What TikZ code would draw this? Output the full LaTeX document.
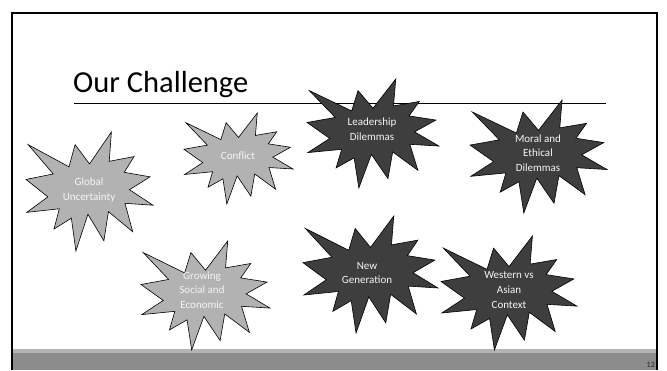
\documentclass[tikz,border=0pt]{standalone}
\usepackage{fontspec}
\setmainfont{Carlito}
\definecolor{starlight}{RGB}{178,178,178}
\definecolor{stardark}{RGB}{62,62,62}
\definecolor{bandlight}{RGB}{180,180,180}
\definecolor{banddark}{RGB}{140,140,140}
\definecolor{labeltext}{RGB}{245,245,245}
\tikzset{
  explosion/.pic={
    \path[pic actions] (0.5,0.2685) -- (0.6723,0) -- (0.6553,0.2465) -- (0.8509,0.2063)
      -- (0.7732,0.3387) -- (0.9767,0.3767) -- (0.8151,0.4850) -- (1,0.6153)
      -- (0.7795,0.5992) -- (0.8400,0.8377) -- (0.6491,0.6693) -- (0.6133,0.9137)
      -- (0.4876,0.6914) -- (0.3928,1) -- (0.3572,0.7235) -- (0.2205,0.8156)
      -- (0.2624,0.6452) -- (0.00625,0.6753) -- (0.1723,0.5451) -- (0,0.3988)
      -- (0.2142,0.3526) -- (0.0171,0.1063) -- (0.3385,0.2926) -- (0.3867,0.1063) -- cycle;
  },
  lightstar/.style={fill=starlight, draw=black, line width=0.6pt, line join=miter},
  darkstar/.style={fill=stardark, draw=black, line width=0.6pt, line join=miter},
  startext/.style={text=labeltext, align=center, inner sep=0pt,
    font=\fontsize{11}{14.7}\selectfont},
}
\begin{document}
\begin{tikzpicture}[x=1pt,y=-1pt]
\useasboundingbox (0,0) rectangle (667,370);
\fill[white] (0,0) rectangle (667,370);
% bottom band
\fill[bandlight] (12,349) rectangle (657,353);
\fill[banddark] (12,353) rectangle (657,370);
% frame
\draw[line width=2pt] (12,370) -- (12,13) -- (657,13) -- (657,370);
% title and rule
\node[anchor=base west, inner sep=0pt, font=\fontsize{30.5}{35}\selectfont] (title) at (73,92) {Our Challenge};
\coordinate (ruleL) at (74,103);
\coordinate (ruleR) at (606,103);
\draw[line width=0.8pt] (ruleL) -- (ruleR);
% stars
\pic[lightstar, xscale=127, yscale=119] at (26,132) {explosion};
\pic[lightstar, xscale=109, yscale=91] at (184,113) {explosion};
\pic[lightstar, xscale=129, yscale=109] at (141,241) {explosion};
\pic[darkstar, xscale=132, yscale=109] at (307,79) {explosion};
\pic[darkstar, xscale=137, yscale=113] at (470,100) {explosion};
\pic[darkstar, xscale=135, yscale=117] at (303,216) {explosion};
\pic[darkstar, xscale=136, yscale=114] at (441,236) {explosion};
% labels
\node[startext] (global) at (89,190) {Global\\Uncertainty};
\node[startext] (conflict) at (238,156) {Conflict};
\node[startext] (growing) at (202,290) {Growing\\Social and\\Economic};
\node[startext] (leader) at (372,129) {Leadership\\Dilemmas};
\node[startext] (moral) at (538,153) {Moral and\\Ethical\\Dilemmas};
\node[startext] (newgen) at (367,273) {New\\Generation};
\node[startext] (western) at (509,290) {Western vs\\Asian\\Context};
% page number
\node[anchor=base east, inner sep=0pt, text=black!85, font=\fontsize{8}{9}\selectfont] (pagenum) at (655,367.5) {12};
\end{tikzpicture}
\end{document}
